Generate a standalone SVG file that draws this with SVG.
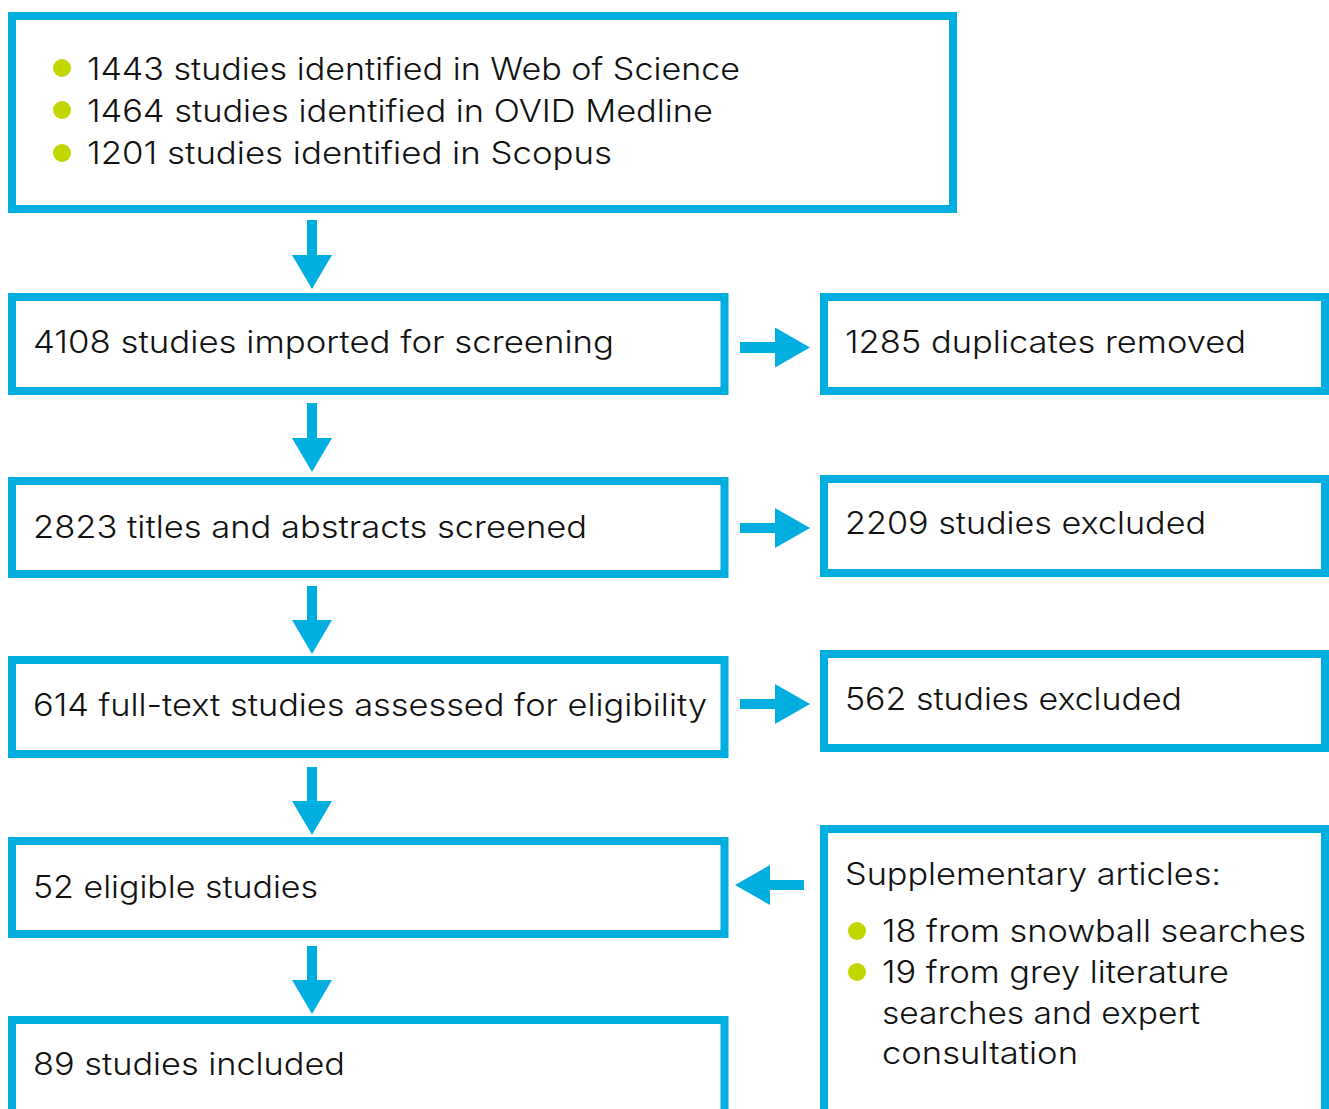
<svg xmlns="http://www.w3.org/2000/svg" width="1329" height="1109" viewBox="0 0 1329 1109">
<style>
.box{fill:#fff;stroke:#00AEDF;stroke-width:8}
.t{font-family:Inter,"Liberation Sans",sans-serif;font-size:31px;font-weight:300;fill:#111}
.dot{fill:#C4D600}
.arr{fill:#00AEDF}
</style>
<rect width="1329" height="1109" fill="#fff"/>
<g id="connectors">
<path class="arr" d="M307,220H317V255H332L312,289L292,255H307Z"/>
<path class="arr" d="M307,403H317V438H332L312,472L292,438H307Z"/>
<path class="arr" d="M307,586H317V620H332L312,654L292,620H307Z"/>
<path class="arr" d="M307,767H317V801H332L312,835L292,801H307Z"/>
<path class="arr" d="M307,946H317V980H332L312,1014L292,980H307Z"/>
<path class="arr" d="M740,342H775V327.5L810,347.5L775,367.5V353H740Z"/>
<path class="arr" d="M740,523H775V508L810,528L775,548V533H740Z"/>
<path class="arr" d="M740,699H775V684L810,704L775,724V709H740Z"/>
<path class="arr" d="M804,880H770V865L735,885L770,905V890H804Z"/>
</g>
<g id="n1">
<rect class="box" x="12" y="16" width="941" height="193"/>
<circle class="dot" cx="62" cy="68" r="9"/>
<circle class="dot" cx="62" cy="110" r="9"/>
<circle class="dot" cx="62" cy="153" r="9"/>
<text class="t" x="87" y="80" textLength="653" lengthAdjust="spacingAndGlyphs">1443 studies identified in Web of Science</text>
<text class="t" x="87" y="122" textLength="626" lengthAdjust="spacingAndGlyphs">1464 studies identified in OVID Medline</text>
<text class="t" x="87" y="164" textLength="525" lengthAdjust="spacingAndGlyphs">1201 studies identified in Scopus</text>
</g>
<g id="n2">
<rect class="box" x="12" y="297" width="712.5" height="94"/>
<text class="t" x="33" y="353" textLength="581" lengthAdjust="spacingAndGlyphs">4108 studies imported for screening</text>
</g>
<g id="n2r">
<rect class="box" x="824" y="297" width="501" height="94"/>
<text class="t" x="845" y="353" textLength="401" lengthAdjust="spacingAndGlyphs">1285 duplicates removed</text>
</g>
<g id="n3">
<rect class="box" x="12" y="481" width="712.5" height="93"/>
<text class="t" x="33" y="538" textLength="554" lengthAdjust="spacingAndGlyphs">2823 titles and abstracts screened</text>
</g>
<g id="n3r">
<rect class="box" x="824" y="479" width="501" height="94"/>
<text class="t" x="845" y="534" textLength="361" lengthAdjust="spacingAndGlyphs">2209 studies excluded</text>
</g>
<g id="n4">
<rect class="box" x="12" y="660" width="712.5" height="94"/>
<text class="t" x="33" y="716" textLength="674" lengthAdjust="spacingAndGlyphs">614 full-text studies assessed for eligibility</text>
</g>
<g id="n4r">
<rect class="box" x="824" y="654" width="501" height="94"/>
<text class="t" x="845" y="710" textLength="337" lengthAdjust="spacingAndGlyphs">562 studies excluded</text>
</g>
<g id="n5">
<rect class="box" x="12" y="841" width="712.5" height="93"/>
<text class="t" x="33" y="898" textLength="285" lengthAdjust="spacingAndGlyphs">52 eligible studies</text>
</g>
<g id="n5r">
<rect class="box" x="824" y="829" width="501" height="300"/>
<text class="t" x="845" y="885" textLength="376" lengthAdjust="spacingAndGlyphs">Supplementary articles:</text>
<circle class="dot" cx="857" cy="931" r="9"/>
<circle class="dot" cx="857" cy="972" r="9"/>
<text class="t" x="882" y="942" textLength="424" lengthAdjust="spacingAndGlyphs">18 from snowball searches</text>
<text class="t" x="882" y="983" textLength="347" lengthAdjust="spacingAndGlyphs">19 from grey literature</text>
<text class="t" x="882" y="1024" textLength="318" lengthAdjust="spacingAndGlyphs">searches and expert</text>
<text class="t" x="882" y="1064" textLength="196" lengthAdjust="spacingAndGlyphs">consultation</text>
</g>
<g id="n6">
<rect class="box" x="12" y="1020" width="712.5" height="120"/>
<text class="t" x="33" y="1075" textLength="312" lengthAdjust="spacingAndGlyphs">89 studies included</text>
</g>
</svg>
